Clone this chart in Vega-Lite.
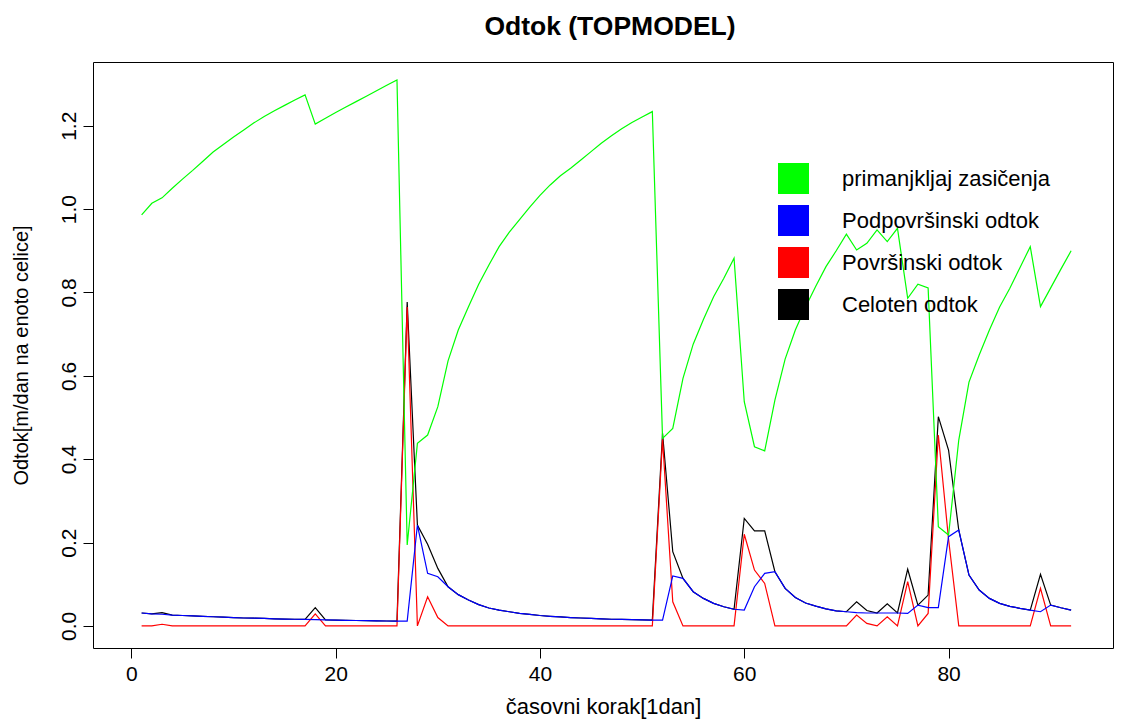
{
  "$schema": "https://vega.github.io/schema/vega-lite/v6.json",
  "width": 1020,
  "height": 586,
  "autosize": {"type": "none"},
  "padding": {"left": 93, "top": 62, "right": 15, "bottom": 72},
  "background": "white",
  "title": {"text": "Odtok (TOPMODEL)", "font": "Liberation Sans", "fontSize": 26.5, "fontWeight": "bold", "color": "black", "anchor": "middle", "offset": 22, "dx": 7},
  "config": {
    "view": {"stroke": "black", "strokeWidth": 1},
    "axis": {"domain": false, "grid": false, "tickColor": "black", "tickSize": 10, "labelFont": "Liberation Sans", "labelFontSize": 21, "labelColor": "black", "titleFont": "Liberation Sans", "titleFontSize": 21, "titleColor": "black", "titleFontWeight": "normal"}
  },
  "data": {"values": [
    {"t":1,"g":0.986,"b":0.031,"r":0,"c":0.031},
    {"t":2,"g":1.014,"b":0.029,"r":0,"c":0.029},
    {"t":3,"g":1.027,"b":0.028,"r":0.004,"c":0.032},
    {"t":4,"g":1.05,"b":0.026,"r":0,"c":0.026},
    {"t":5,"g":1.072,"b":0.025,"r":0,"c":0.025},
    {"t":6,"g":1.093,"b":0.024,"r":0,"c":0.024},
    {"t":7,"g":1.115,"b":0.023,"r":0,"c":0.023},
    {"t":8,"g":1.137,"b":0.022,"r":0,"c":0.022},
    {"t":9,"g":1.155,"b":0.021,"r":0,"c":0.021},
    {"t":10,"g":1.173,"b":0.02,"r":0,"c":0.02},
    {"t":11,"g":1.19,"b":0.019,"r":0,"c":0.019},
    {"t":12,"g":1.207,"b":0.0185,"r":0,"c":0.0185},
    {"t":13,"g":1.222,"b":0.018,"r":0,"c":0.018},
    {"t":14,"g":1.236,"b":0.017,"r":0,"c":0.017},
    {"t":15,"g":1.249,"b":0.0165,"r":0,"c":0.0165},
    {"t":16,"g":1.262,"b":0.016,"r":0,"c":0.016},
    {"t":17,"g":1.274,"b":0.0155,"r":0,"c":0.0155},
    {"t":18,"g":1.204,"b":0.015,"r":0.029,"c":0.044},
    {"t":19,"g":1.218,"b":0.0145,"r":0,"c":0.0145},
    {"t":20,"g":1.232,"b":0.014,"r":0,"c":0.014},
    {"t":21,"g":1.245,"b":0.0135,"r":0,"c":0.0135},
    {"t":22,"g":1.258,"b":0.013,"r":0,"c":0.013},
    {"t":23,"g":1.271,"b":0.0125,"r":0,"c":0.0125},
    {"t":24,"g":1.284,"b":0.012,"r":0,"c":0.012},
    {"t":25,"g":1.297,"b":0.0118,"r":0,"c":0.0118},
    {"t":26,"g":1.31,"b":0.0115,"r":0,"c":0.0115},
    {"t":27,"g":0.194,"b":0.0115,"r":0.765,"c":0.777},
    {"t":28,"g":0.438,"b":0.242,"r":0,"c":0.242},
    {"t":29,"g":0.458,"b":0.126,"r":0.07,"c":0.196},
    {"t":30,"g":0.526,"b":0.118,"r":0.02,"c":0.138},
    {"t":31,"g":0.636,"b":0.094,"r":0,"c":0.094},
    {"t":32,"g":0.71,"b":0.075,"r":0,"c":0.075},
    {"t":33,"g":0.766,"b":0.062,"r":0,"c":0.062},
    {"t":34,"g":0.82,"b":0.051,"r":0,"c":0.051},
    {"t":35,"g":0.866,"b":0.043,"r":0,"c":0.043},
    {"t":36,"g":0.91,"b":0.038,"r":0,"c":0.038},
    {"t":37,"g":0.945,"b":0.034,"r":0,"c":0.034},
    {"t":38,"g":0.975,"b":0.03,"r":0,"c":0.03},
    {"t":39,"g":1.005,"b":0.0276,"r":0,"c":0.0276},
    {"t":40,"g":1.033,"b":0.025,"r":0,"c":0.025},
    {"t":41,"g":1.058,"b":0.023,"r":0,"c":0.023},
    {"t":42,"g":1.08,"b":0.0215,"r":0,"c":0.0215},
    {"t":43,"g":1.098,"b":0.02,"r":0,"c":0.02},
    {"t":44,"g":1.118,"b":0.019,"r":0,"c":0.019},
    {"t":45,"g":1.138,"b":0.018,"r":0,"c":0.018},
    {"t":46,"g":1.158,"b":0.017,"r":0,"c":0.017},
    {"t":47,"g":1.176,"b":0.016,"r":0,"c":0.016},
    {"t":48,"g":1.193,"b":0.0155,"r":0,"c":0.0155},
    {"t":49,"g":1.208,"b":0.015,"r":0,"c":0.015},
    {"t":50,"g":1.221,"b":0.0145,"r":0,"c":0.0145},
    {"t":51,"g":1.234,"b":0.014,"r":0,"c":0.014},
    {"t":52,"g":0.45,"b":0.014,"r":0.448,"c":0.462},
    {"t":53,"g":0.474,"b":0.12,"r":0.058,"c":0.178},
    {"t":54,"g":0.594,"b":0.114,"r":0,"c":0.114},
    {"t":55,"g":0.676,"b":0.082,"r":0,"c":0.082},
    {"t":56,"g":0.735,"b":0.066,"r":0,"c":0.066},
    {"t":57,"g":0.79,"b":0.054,"r":0,"c":0.054},
    {"t":58,"g":0.834,"b":0.046,"r":0,"c":0.046},
    {"t":59,"g":0.882,"b":0.04,"r":0,"c":0.04},
    {"t":60,"g":0.538,"b":0.038,"r":0.22,"c":0.258},
    {"t":61,"g":0.43,"b":0.094,"r":0.134,"c":0.228},
    {"t":62,"g":0.42,"b":0.126,"r":0.102,"c":0.228},
    {"t":63,"g":0.542,"b":0.13,"r":0,"c":0.13},
    {"t":64,"g":0.64,"b":0.09,"r":0,"c":0.09},
    {"t":65,"g":0.71,"b":0.068,"r":0,"c":0.068},
    {"t":66,"g":0.765,"b":0.055,"r":0,"c":0.055},
    {"t":67,"g":0.815,"b":0.0475,"r":0,"c":0.0475},
    {"t":68,"g":0.862,"b":0.041,"r":0,"c":0.041},
    {"t":69,"g":0.9,"b":0.036,"r":0,"c":0.036},
    {"t":70,"g":0.94,"b":0.034,"r":0,"c":0.034},
    {"t":71,"g":0.902,"b":0.032,"r":0.026,"c":0.058},
    {"t":72,"g":0.918,"b":0.031,"r":0.006,"c":0.037},
    {"t":73,"g":0.95,"b":0.031,"r":0,"c":0.031},
    {"t":74,"g":0.922,"b":0.031,"r":0.022,"c":0.053},
    {"t":75,"g":0.954,"b":0.031,"r":0,"c":0.031},
    {"t":76,"g":0.786,"b":0.03,"r":0.106,"c":0.136},
    {"t":77,"g":0.82,"b":0.05,"r":0,"c":0.05},
    {"t":78,"g":0.811,"b":0.044,"r":0.03,"c":0.074},
    {"t":79,"g":0.238,"b":0.044,"r":0.458,"c":0.502},
    {"t":80,"g":0.218,"b":0.214,"r":0.208,"c":0.422},
    {"t":81,"g":0.446,"b":0.23,"r":0,"c":0.23},
    {"t":82,"g":0.585,"b":0.122,"r":0,"c":0.122},
    {"t":83,"g":0.65,"b":0.086,"r":0,"c":0.086},
    {"t":84,"g":0.71,"b":0.066,"r":0,"c":0.066},
    {"t":85,"g":0.765,"b":0.054,"r":0,"c":0.054},
    {"t":86,"g":0.81,"b":0.047,"r":0,"c":0.047},
    {"t":87,"g":0.86,"b":0.042,"r":0,"c":0.042},
    {"t":88,"g":0.91,"b":0.038,"r":0,"c":0.038},
    {"t":89,"g":0.766,"b":0.034,"r":0.09,"c":0.124},
    {"t":90,"g":0.811,"b":0.05,"r":0,"c":0.05},
    {"t":91,"g":0.856,"b":0.0435,"r":0,"c":0.0435},
    {"t":92,"g":0.9,"b":0.038,"r":0,"c":0.038}
  ]},
  "transform": [
    {"fold": ["c", "r", "b", "g"], "as": ["key", "v"]},
    {"calculate": "{'g':'primanjkljaj zasičenja','b':'Podpovršinski odtok','r':'Površinski odtok','c':'Celoten odtok'}[datum.key]", "as": "serija"}
  ],
  "mark": {"type": "line", "strokeWidth": 1.2, "interpolate": "linear"},
  "encoding": {
    "x": {"field": "t", "type": "quantitative", "scale": {"domain": [-3.76, 96.1], "nice": false, "zero": false},
      "axis": {"values": [0, 20, 40, 60, 80], "title": "časovni korak[1dan]", "labelPadding": 5, "titlePadding": 12, "titleFontSize": 22}},
    "y": {"field": "v", "type": "quantitative", "scale": {"domain": [-0.053, 1.353], "nice": false, "zero": false},
      "axis": {"values": [0, 0.2, 0.4, 0.6, 0.8, 1.0, 1.2], "format": ".1f", "labelAngle": -90, "labelAlign": "center", "labelBaseline": "bottom", "labelPadding": 4, "title": "Odtok[m/dan na enoto celice]", "titleFontSize": 20, "titlePadding": 27}},
    "color": {"field": "serija", "type": "nominal",
      "scale": {"domain": ["primanjkljaj zasičenja", "Podpovršinski odtok", "Površinski odtok", "Celoten odtok"], "range": ["#00FF00", "#0000FF", "#FF0000", "#000000"]},
      "legend": {"title": null, "orient": "none", "legendX": 685, "legendY": 101, "symbolType": "square", "symbolSize": 870, "symbolStrokeColor": "#222222", "symbolStrokeWidth": 1.5, "labelFont": "Liberation Sans", "labelFontSize": 22, "labelColor": "black", "labelLimit": 0, "labelOffset": 33, "rowPadding": 5, "padding": 0,
        "encode": {"symbols": {"enter": {"stroke": {"value": "#222222"}, "strokeWidth": {"value": 1.5}}, "update": {"fill": {"scale": "color", "field": "value"}, "stroke": {"value": "#222222"}, "strokeWidth": {"value": 1.5}, "opacity": {"value": 1}}}}}
    }
  }
}
